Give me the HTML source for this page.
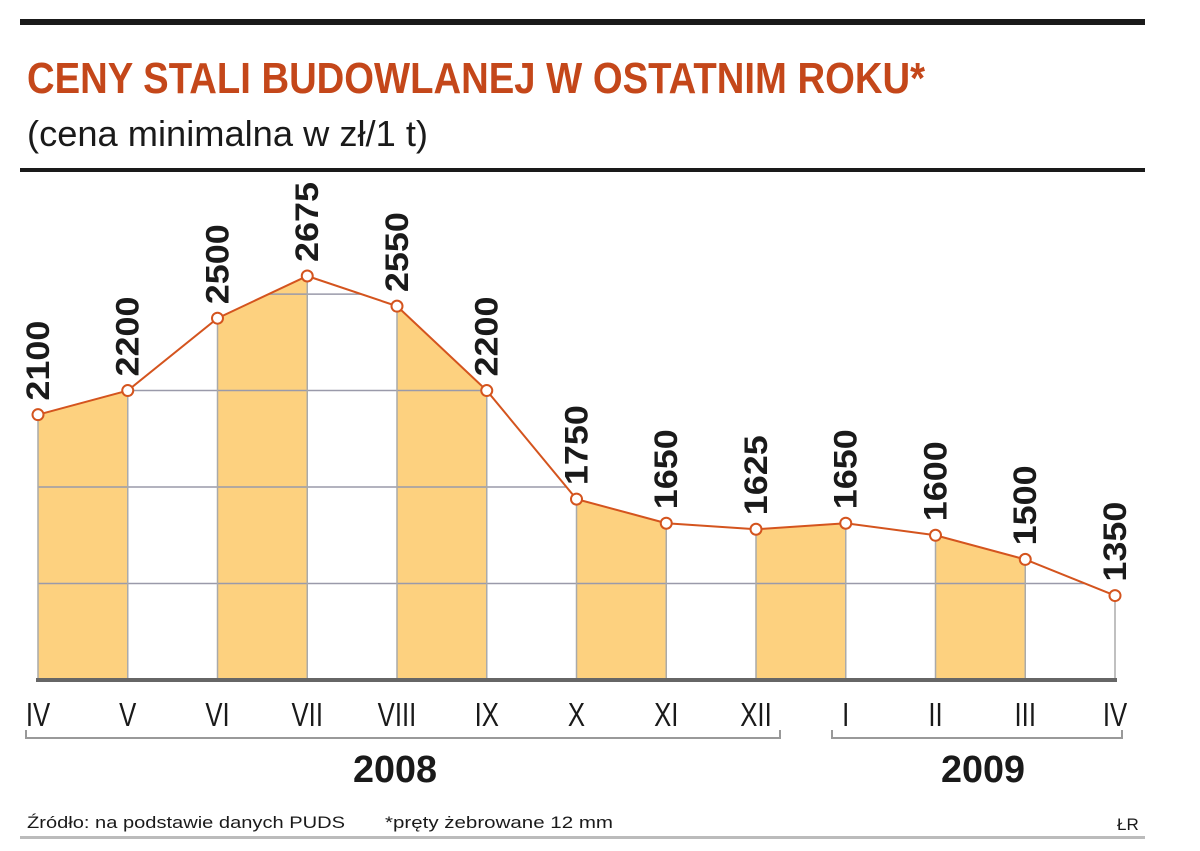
<!DOCTYPE html>
<html><head><meta charset="utf-8"><style>
html,body{margin:0;padding:0;background:#fff;}
svg{display:block;font-family:"Liberation Sans",sans-serif;}
</style></head><body>
<svg id="chart" width="1200" height="851" viewBox="0 0 1200 851" xmlns="http://www.w3.org/2000/svg">
<rect x="20" y="19" width="1125" height="6" fill="#1a1a1a"/>
<text x="27" y="93" font-size="44" font-weight="bold" fill="#c4471a" textLength="898" lengthAdjust="spacingAndGlyphs">CENY STALI BUDOWLANEJ W OSTATNIM ROKU*</text>
<text x="27" y="146" font-size="36" fill="#1a1a1a" textLength="401" lengthAdjust="spacingAndGlyphs">(cena minimalna w zł/1 t)</text>
<rect x="20" y="168" width="1125" height="4" fill="#1a1a1a"/>
<defs><clipPath id="under"><path id="underPath" d=""/></clipPath></defs>
<g id="bands"></g>
<g id="grid" clip-path="url(#under)"></g>
<g id="verticals"></g>
<rect x="36" y="678" width="1081" height="4" fill="#666"/>
<g id="line"></g>
<g id="labels"></g>
<g id="months"></g>
<path d="M26 730 V738 H780 V730" fill="none" stroke="#999" stroke-width="2"/>
<path d="M832 730 V738 H1122 V730" fill="none" stroke="#999" stroke-width="2"/>
<text x="395" y="782" font-size="38" font-weight="bold" text-anchor="middle" fill="#1a1a1a" textLength="84" lengthAdjust="spacingAndGlyphs">2008</text>
<text x="983" y="782" font-size="38" font-weight="bold" text-anchor="middle" fill="#1a1a1a" textLength="84" lengthAdjust="spacingAndGlyphs">2009</text>
<text x="27" y="828" font-size="17" fill="#1a1a1a" textLength="318" lengthAdjust="spacingAndGlyphs">Źródło: na podstawie danych PUDS</text>
<text x="385" y="828" font-size="17" fill="#1a1a1a" textLength="228" lengthAdjust="spacingAndGlyphs">*pręty żebrowane 12 mm</text>
<text x="1117" y="830" font-size="17" fill="#1a1a1a">ŁR</text>
<rect x="20" y="836" width="1125" height="3" fill="#bbb"/>
</svg>
<script>
const months = ["IV","V","VI","VII","VIII","IX","X","XI","XII","I","II","III","IV"];
const prices = [2100,2200,2500,2675,2550,2200,1750,1650,1625,1650,1600,1500,1350];
const gridValues = [1400,1800,2200,2600];
const NS = "http://www.w3.org/2000/svg";
const x0 = 38, x1 = 1115;
function xs(i){ return x0 + (x1 - x0) * i / (months.length - 1); }
function ys(v){ return 680 - (v - 1000) * 0.2412; }
function mk(tag, attrs, parent){ const e = document.createElementNS(NS, tag); for (const k in attrs) e.setAttribute(k, attrs[k]); parent.appendChild(e); return e; }
const bands = document.getElementById('bands'), grid = document.getElementById('grid'), verts = document.getElementById('verticals'), line = document.getElementById('line'), labels = document.getElementById('labels'), mo = document.getElementById('months');
// clip path under curve
let d = "M" + xs(0) + " 680";
prices.forEach((v, i) => { d += " L" + xs(i) + " " + ys(v); });
d += " L" + xs(prices.length - 1) + " 680 Z";
document.getElementById('underPath').setAttribute('d', d);
// shaded bands
for (let i = 0; i < prices.length - 1; i += 2) {
  const p = mk('path', {d: `M${xs(i)} 680 L${xs(i)} ${ys(prices[i])} L${xs(i+1)} ${ys(prices[i+1])} L${xs(i+1)} 680 Z`, fill: '#fdd17f'}, bands);
  
  
}
gridValues.forEach(v => {
  const l = mk('line', {x1: x0, x2: x1, y1: ys(v), y2: ys(v), stroke: '#9a9aaa', 'stroke-width': 1.5}, grid);
  
  
});
prices.forEach((v, i) => {
  const l = mk('line', {x1: xs(i), x2: xs(i), y1: ys(v), y2: 680, stroke: '#aaa', 'stroke-width': 1.5}, verts);
  
  
});
const pl = mk('polyline', {points: prices.map((v, i) => xs(i) + "," + ys(v)).join(" "), fill: 'none', stroke: '#d4541e', 'stroke-width': 2}, line);


prices.forEach((v, i) => {
  const c = mk('circle', {cx: xs(i), cy: ys(v), r: 5.5, fill: '#fff', stroke: '#d4541e', 'stroke-width': 2}, line);
  
  
  const tx = xs(i) + 11, ty = ys(v) - 14;
  const t = mk('text', {x: tx, y: ty, transform: `rotate(-90 ${tx} ${ty})`, 'font-size': 32, 'font-weight': 'bold', fill: '#1a1a1a', textLength: 80, lengthAdjust: 'spacingAndGlyphs'}, labels);
  t.textContent = v;
  
  
});
months.forEach((m, i) => {
  const t = mk('text', {x: xs(i), y: 726, 'font-size': 33, 'text-anchor': 'middle', fill: '#1a1a1a', transform: `translate(${xs(i)} 0) scale(0.78 1) translate(${-xs(i)} 0)`}, mo);
  t.textContent = m;
  
  
});
</script>
</body></html>
